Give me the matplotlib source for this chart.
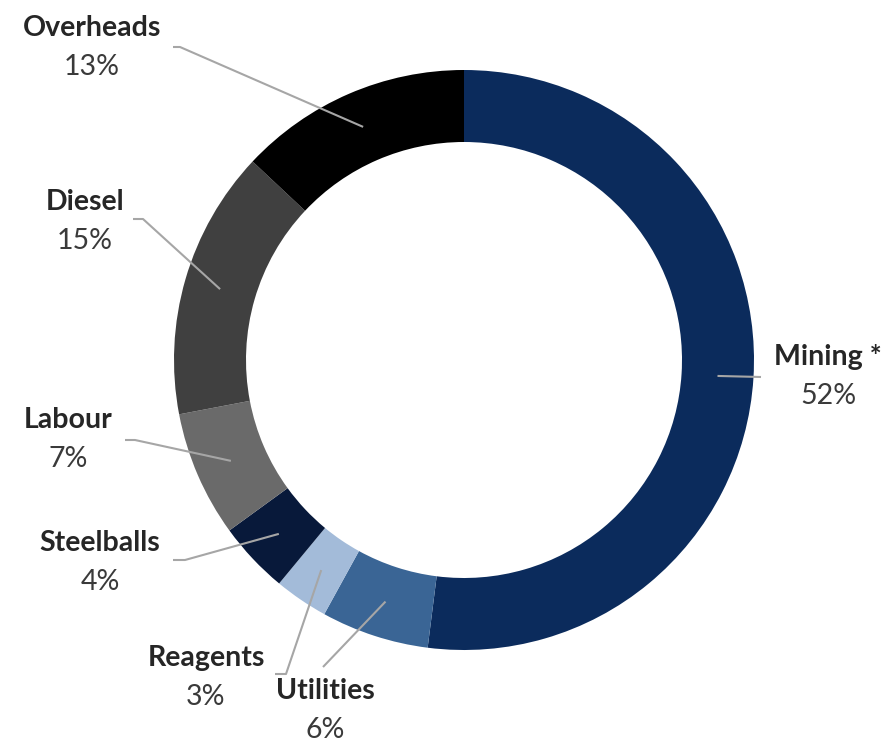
import numpy as np
import matplotlib.pyplot as plt

plt.rcParams['font.family'] = ['Lato', 'DejaVu Sans']

labels = ['Mining *', 'Utilities', 'Reagents', 'Steelballs', 'Labour', 'Diesel', 'Overheads']
shares = [52, 6, 3, 4, 7, 15, 13]
colors = ['#0b2b5c', '#3a6595', '#a3bbd9', '#08193a', '#6a6a6a', '#404040', '#000000']

# label text position (name line), and start of leader line, in pixel space (y down)
label_pos = [(828, 357), (325, 691), (206, 658), (100, 543), (68, 420), (85, 202), (92, 28)]
leader_start = [(761, 377), (323, 667), (275, 674), (173, 560), (125, 440), (133, 219), (173, 47)]
leader_knee = [None, None, (286, 674), (185, 560), (135, 440), (143, 219), (180, 47)]

W, H = 886, 744
cx, cy = 464, 360
R, ring = 290, 72

fig = plt.figure(figsize=(W / 100, H / 100), dpi=100)
ax = fig.add_axes([0, 0, 1, 1])

ax.pie(shares, colors=colors, startangle=90, counterclock=False,
       center=(cx, H - cy), radius=R,
       wedgeprops=dict(width=ring, linewidth=0), frame=True)
ax.set_xlim(0, W)
ax.set_ylim(0, H)
ax.set_aspect('equal')
ax.axis('off')

total = sum(shares)
cum = 0
for i, v in enumerate(shares):
    mid = (cum + v / 2) / total * 2 * np.pi
    cum += v
    rm = R - ring / 2
    ex = cx + rm * np.sin(mid)
    ey = cy - rm * np.cos(mid)
    pts = [leader_start[i]]
    if leader_knee[i] is not None:
        pts.append(leader_knee[i])
    pts.append((ex, ey))
    xs = [p[0] for p in pts]
    ys = [H - p[1] for p in pts]
    ax.plot(xs, ys, color='#a6a6a6', lw=1.5, solid_capstyle='butt', zorder=5)

    lx, ly = label_pos[i]
    ax.text(lx, H - ly, labels[i], ha='center', va='center', fontsize=20.5,
            fontweight='bold', color='#262626')
    ax.text(lx, H - ly - 39, f'{v}%', ha='center', va='center', fontsize=20.5,
            color='#3a3a3a')

fig.savefig('out.png', dpi=100)
